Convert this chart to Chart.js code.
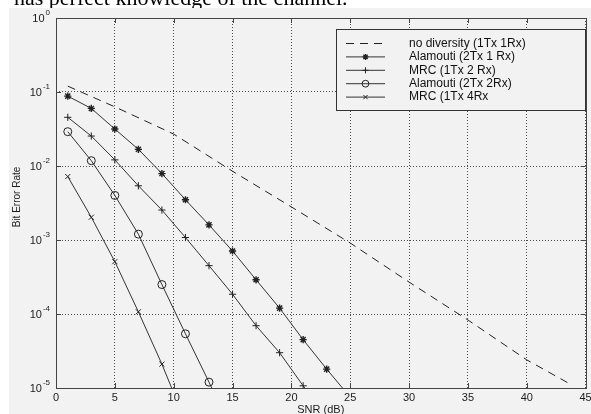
<!DOCTYPE html>
<html>
<head>
<meta charset="utf-8">
<script src="https://cdn.jsdelivr.net/npm/chart.js@4/dist/chart.umd.min.js"></script>
<style>
  html, body { margin: 0; padding: 0; background: #fff; }
  canvas { display: block; }
</style>
</head>
<body>
<canvas id="berChart" width="591" height="414"></canvas>
<script>
// values (SNR in dB, BER)
var snrOdd = [1, 3, 5, 7, 9, 11, 13, 15, 17, 19, 21, 23, 25];
var snrNoDiv = [1, 5, 10, 15, 20, 25, 30, 35, 40, 43.6];
var berNoDiv = [0.12, 0.063, 0.027, 0.0085, 0.0028, 9.1e-4, 2.7e-4, 8.3e-5, 2.4e-5, 1.15e-5];
var berAlamouti21 = [0.088, 0.060, 0.0316, 0.0168, 0.0079, 0.0035, 0.0016, 7.1e-4, 2.9e-4, 1.2e-4, 4.5e-5, 1.8e-5, 7.5e-6];
var berMrc12 = [0.0455, 0.0254, 0.0121, 0.0054, 0.00254, 0.00108, 4.5e-4, 1.85e-4, 6.95e-5, 3.0e-5, 1.07e-5, 4e-6];
var berAlamouti22 = [0.0291, 0.0118, 0.0040, 0.0012, 2.5e-4, 5.4e-5, 1.2e-5, 2.5e-6];
var berMrc14 = [0.0072, 0.00203, 5.1e-4, 1.07e-4, 2.1e-5, 3.5e-6];
var seriesNames = ['no diversity (1Tx 1Rx)', 'Alamouti (2Tx 1 Rx)', 'MRC (1Tx 2 Rx)', 'Alamouti (2Tx 2Rx)', 'MRC (1Tx 4Rx'];
var xTicks = [0, 5, 10, 15, 20, 25, 30, 35, 40, 45];
var yTicks = [1e-5, 1e-4, 1e-3, 1e-2, 1e-1, 1];
var yTickExp = ['-5', '-4', '-3', '-2', '-1', '0'];
var pageText = 'has perfect knowledge of the channel.';

function pts(xs, ys) {
  return ys.map(function(v, i) { return {x: xs[i], y: v}; });
}

var FONT = "'Liberation Sans', Arial, sans-serif";
var INK = '#1c1c1c';

function series(label, data, style) {
  return {
    label: label,
    data: data,
    borderColor: '#333',
    borderWidth: 1,
    pointStyle: style,
    pointRadius: style === 'circle' ? 4 : 3.6,
    pointBorderColor: '#222',
    pointBorderWidth: style === 'star' ? 1.4 : 1,
    pointBackgroundColor: 'rgba(0,0,0,0)',
    clip: 0
  };
}

var datasets = [
  {
    label: seriesNames[0],
    data: pts(snrNoDiv, berNoDiv),
    borderColor: '#222',
    borderWidth: 1,
    borderDash: [8, 6],
    pointRadius: 0,
    clip: 0
  },
  series(seriesNames[1], pts(snrOdd, berAlamouti21), 'star'),
  series(seriesNames[2], pts(snrOdd, berMrc12), 'cross'),
  series(seriesNames[3], pts(snrOdd, berAlamouti22), 'circle'),
  series(seriesNames[4], pts(snrOdd, berMrc14), 'crossRot')
];

var gridOpts = {color: '#4a4a4a', lineWidth: 1, drawTicks: false, tickLength: 0};
var borderOpts = {display: false, dash: [1, 2]};

var matlabLook = {
  id: 'matlabLook',
  beforeDraw: function(chart) {
    var ctx = chart.ctx;
    ctx.save();
    ctx.fillStyle = '#000';
    ctx.font = "22px 'Liberation Serif', 'Times New Roman', serif";
    ctx.textBaseline = 'alphabetic';
    ctx.fillText(pageText, 14, 5);
    ctx.fillStyle = '#f2f2f2';
    ctx.fillRect(9, 8, chart.width - 9, chart.height - 8);
    ctx.restore();
  },
  afterDatasetsDraw: function(chart) {
    var ctx = chart.ctx, a = chart.chartArea;
    var xs = chart.scales.x, ys = chart.scales.y;
    ctx.save();
    ctx.strokeStyle = '#444';
    ctx.lineWidth = 1;
    ctx.setLineDash([]);
    ctx.strokeRect(Math.round(a.left) + 0.5, Math.round(a.top) + 0.5,
      Math.round(a.right - a.left), Math.round(a.bottom - a.top));
    // inward tick marks on all four sides
    ctx.beginPath();
    xTicks.forEach(function(v) {
      var px = Math.round(xs.getPixelForValue(v)) + 0.5;
      ctx.moveTo(px, a.bottom); ctx.lineTo(px, a.bottom - 5);
      ctx.moveTo(px, a.top); ctx.lineTo(px, a.top + 5);
    });
    yTicks.forEach(function(v) {
      var py = Math.round(ys.getPixelForValue(v)) + 0.5;
      ctx.moveTo(a.left, py); ctx.lineTo(a.left + 5, py);
      ctx.moveTo(a.right, py); ctx.lineTo(a.right - 5, py);
    });
    ctx.stroke();

    // tick labels
    ctx.fillStyle = INK;
    ctx.font = '11px ' + FONT;
    ctx.textAlign = 'center';
    ctx.textBaseline = 'middle';
    xTicks.forEach(function(v) {
      ctx.fillText(String(v), xs.getPixelForValue(v), a.bottom + 10);
    });
    yTicks.forEach(function(v, i) {
      var py = ys.getPixelForValue(v);
      ctx.font = '8px ' + FONT;
      var we = ctx.measureText(yTickExp[i]).width;
      ctx.textAlign = 'left';
      ctx.fillText(yTickExp[i], 50 - we, py - 5);
      ctx.font = '11px ' + FONT;
      ctx.textAlign = 'right';
      ctx.fillText('10', 49 - we, py + 1);
    });

    // axis titles
    ctx.font = '11px ' + FONT;
    ctx.textAlign = 'center';
    ctx.fillText('SNR (dB)', (a.left + a.right) / 2, 410);
    ctx.translate(17, 197);
    ctx.rotate(-Math.PI / 2);
    ctx.font = '10px ' + FONT;
    ctx.fillText('Bit Error Rate', 0, 0);
    ctx.restore();
  },
  afterDraw: function(chart) {
    var ctx = chart.ctx, a = chart.chartArea;
    var bw = 249, bh = 81;
    var bx = Math.round(a.right) - 1 - bw, by = Math.round(a.top) + 11.5;
    ctx.save();
    ctx.fillStyle = '#f2f2f2';
    ctx.fillRect(bx + 0.5, by, bw, bh);
    ctx.strokeStyle = '#333';
    ctx.lineWidth = 1;
    ctx.strokeRect(bx + 0.5, by, bw, bh);
    chart.data.datasets.forEach(function(ds, i) {
      var ry = by + 14 + i * 13.4;
      ctx.strokeStyle = ds.borderColor;
      ctx.lineWidth = 1;
      ctx.setLineDash(ds.borderDash || []);
      ctx.beginPath();
      ctx.moveTo(bx + 10, ry);
      ctx.lineTo(bx + 49, ry);
      ctx.stroke();
      ctx.setLineDash([]);
      if (ds.pointRadius > 0) {
        ctx.strokeStyle = ds.pointBorderColor;
        ctx.fillStyle = 'rgba(0,0,0,0)';
        ctx.lineWidth = ds.pointBorderWidth;
        Chart.helpers.drawPoint(ctx, {
          pointStyle: ds.pointStyle, rotation: 0,
          radius: ds.pointRadius - 0.6, borderWidth: ds.pointBorderWidth
        }, bx + 29.5, ry);
      }
      ctx.fillStyle = '#111';
      ctx.font = '12px ' + FONT;
      ctx.textAlign = 'left';
      ctx.textBaseline = 'middle';
      ctx.fillText(ds.label, bx + 73, ry);
    });
    ctx.restore();
  }
};

new Chart(document.getElementById('berChart'), {
  type: 'line',
  data: {datasets: datasets},
  options: {
    responsive: false,
    animation: false,
    devicePixelRatio: 1,
    layout: {padding: {left: 0, top: 18, right: 4, bottom: 0}},
    plugins: {legend: {display: false}, tooltip: {enabled: false}},
    scales: {
      x: {
        type: 'linear', min: 0, max: 45,
        ticks: {display: false, stepSize: 5},
        afterBuildTicks: function(scale) {
          scale.ticks = xTicks.map(function(v) { return {value: v}; });
        },
        afterFit: function(scale) {
          scale.height = 26; scale.paddingLeft = 0; scale.paddingRight = 0;
        },
        grid: gridOpts,
        border: borderOpts
      },
      y: {
        type: 'logarithmic', min: 1e-5, max: 1,
        ticks: {display: false},
        afterBuildTicks: function(scale) {
          scale.ticks = yTicks.map(function(v) { return {value: v}; });
        },
        afterFit: function(scale) { scale.width = 56; },
        grid: gridOpts,
        border: borderOpts
      }
    }
  },
  plugins: [matlabLook]
});
</script>
</body>
</html>
